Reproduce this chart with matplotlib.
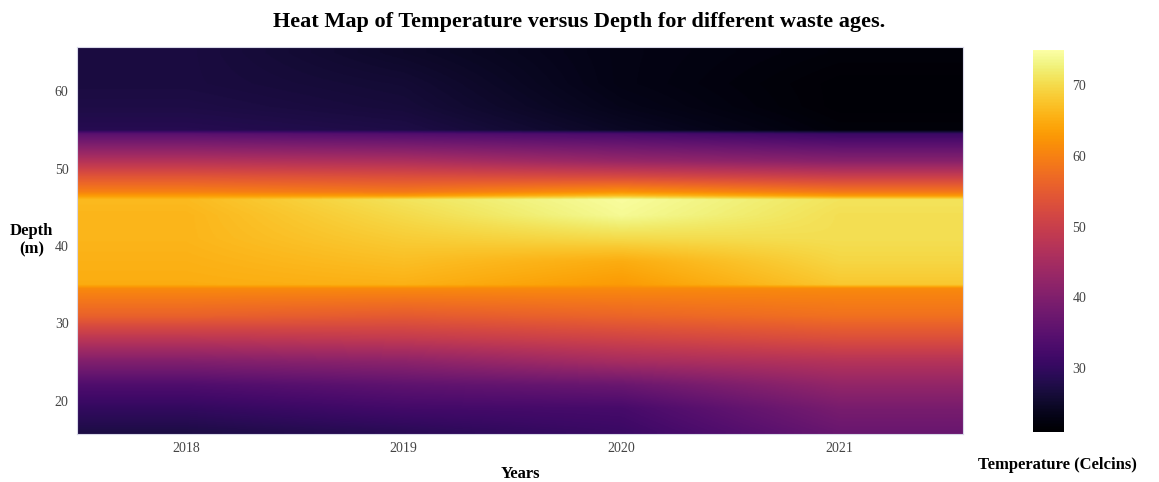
import numpy as np
import matplotlib.pyplot as plt

plt.rcParams['font.family'] = ['Liberation Serif', 'DejaVu Serif']

# 数据：年份、深度（m）、各年份在各深度的温度（℃）
years = [2018, 2019, 2020, 2021]
depths = [16, 19, 22, 25, 28, 31, 34.5, 35, 38, 41, 44, 46, 46.5, 47, 49, 51, 54.5, 55, 58, 61, 65]
temp_2018 = [27.5, 30, 33.5, 40, 48, 56, 61, 65, 65.5, 66, 66, 66.5, 63, 60, 54, 47, 35, 28.5, 27.5, 27, 27]
temp_2019 = [29, 32, 35.5, 41.5, 49, 55, 61, 65.5, 67, 68.5, 70, 71, 63, 59, 53, 46, 34, 27.5, 26.5, 26, 25]
temp_2020 = [31, 32.5, 37, 45, 51, 56.5, 61, 63, 65, 70, 74, 74.5, 67, 62, 52, 43, 33, 24.5, 23.5, 23, 23]
temp_2021 = [37, 39, 42.5, 47, 53, 58, 61, 68, 69.5, 70.5, 70.5, 71, 63, 59, 50, 41, 31, 22, 21.5, 21.5, 22]

z = np.array([temp_2018, temp_2019, temp_2020, temp_2021]).T
zmin, zmax = 21, 75

# 平滑插值（先沿年份，再沿深度）
x0, x1 = 2017.5, 2021.57
y0, y1 = 15.7, 65.7
xs = np.linspace(x0, x1, 800)
ys = np.linspace(y0, y1, 600)
rows = np.array([np.interp(xs, years, r) for r in z])
img = np.array([np.interp(ys, depths, c) for c in rows.T]).T

fig = plt.figure(figsize=(11.59, 4.82), dpi=100)
ax = fig.add_axes([0.0664, 0.0996, 0.7645, 0.8029])
im = ax.imshow(img, origin='lower', aspect='auto', cmap='inferno',
               vmin=zmin, vmax=zmax, extent=[x0, x1, y0, y1])

ax.set_xticks(years)
ax.set_xticklabels([str(y) for y in years])
ax.set_yticks([20, 30, 40, 50, 60])
ax.tick_params(length=0, labelsize=10, labelcolor='#444444', pad=6)
for s in ax.spines.values():
    s.set_color('#d8d8e8')
    s.set_linewidth(0.8)

ax.set_xlabel('Years', fontsize=12, fontweight='bold', labelpad=8)
ax.set_ylabel('Depth\n(m)', fontsize=12, fontweight='bold', rotation=0,
              ha='center', va='center')
ax.yaxis.set_label_coords(-0.051, 0.5)
fig.text(0.5, 0.955, 'Heat Map of Temperature versus Depth for different waste ages.',
         ha='center', va='center', fontsize=16, fontweight='bold')

# 色标
cax = fig.add_axes([0.891, 0.104, 0.027, 0.793])
cb = fig.colorbar(im, cax=cax)
cb.set_ticks([30, 40, 50, 60, 70])
cb.ax.tick_params(length=0, labelsize=10, labelcolor='#444444', pad=6)
cb.outline.set_visible(False)
fig.text(0.912, 0.035, 'Temperature (Celcins)', ha='center', va='center',
         fontsize=12, fontweight='bold')

plt.savefig('out.png', dpi=100)
